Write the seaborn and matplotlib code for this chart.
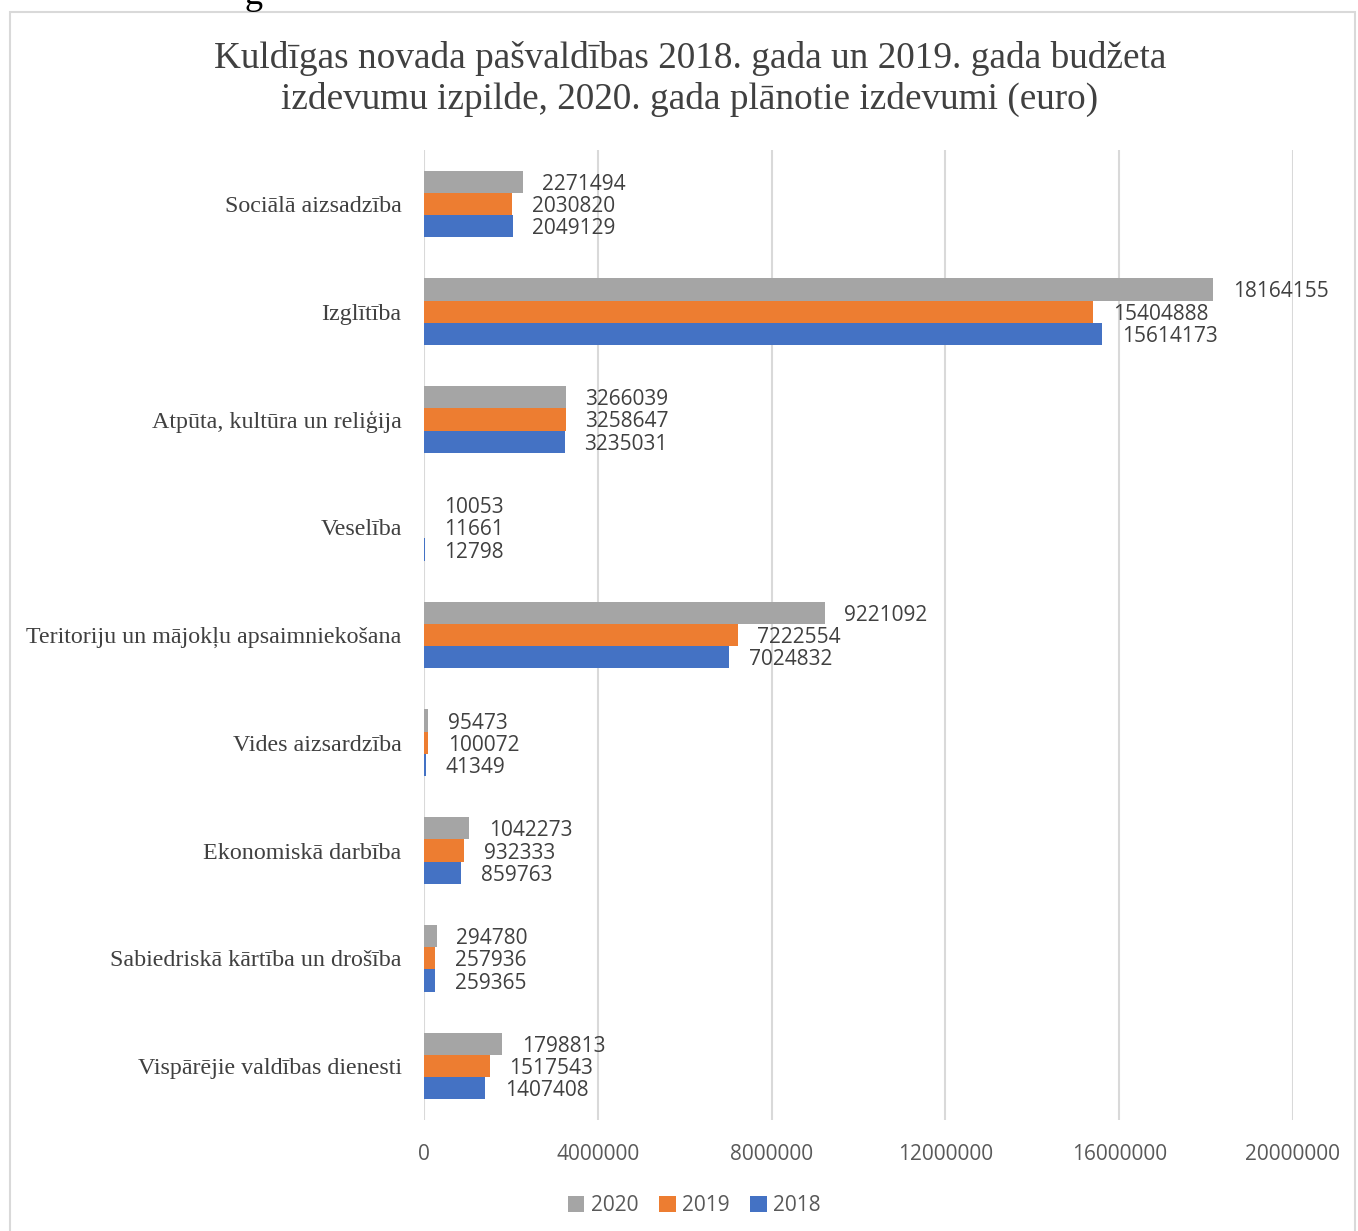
import numpy as np
import pandas as pd
import matplotlib
matplotlib.use("Agg")
import matplotlib.pyplot as plt
import seaborn as sns
from matplotlib.patches import Rectangle

sns.set_theme(style="white")

kategorijas = [
    "Sociālā aizsadzība",
    "Izglītība",
    "Atpūta, kultūra un reliģija",
    "Veselība",
    "Teritoriju un mājokļu apsaimniekošana",
    "Vides aizsardzība",
    "Ekonomiskā darbība",
    "Sabiedriskā kārtība un drošība",
    "Vispārējie valdības dienesti",
]
gadi = ["2020", "2019", "2018"]
izdevumi_2020 = [2271494, 18164155, 3266039, 10053, 9221092, 95473, 1042273, 294780, 1798813]
izdevumi_2019 = [2030820, 15404888, 3258647, 11661, 7222554, 100072, 932333, 257936, 1517543]
izdevumi_2018 = [2049129, 15614173, 3235031, 12798, 7024832, 41349, 859763, 259365, 1407408]
krasas = ["#A5A5A5", "#ED7D31", "#4472C4"]

dati = pd.DataFrame({
    "kategorija": kategorijas * 3,
    "gads": np.repeat(gadi, len(kategorijas)),
    "vertiba": izdevumi_2020 + izdevumi_2019 + izdevumi_2018,
})

fig = plt.figure(figsize=(13.58, 12.31), dpi=100)
ax = fig.add_axes([0.3122, 0.0902, 0.6399, 0.7879])

# rāmis ap diagrammu
fig.patches.append(Rectangle((10 / 1358, -0.01), 1345 / 1358, 1 - 12 / 1231 + 0.01,
                             transform=fig.transFigure, fill=False,
                             edgecolor="#D9D9D9", linewidth=1.5))
# lapas teksta atlikums virs diagrammas (nogriezts kā oriģinālā)
fig.text(0.180, 1.004, "g", fontsize=26, family="Liberation Serif", va="center", color="black")

sns.barplot(data=dati, y="kategorija", x="vertiba", hue="gads", hue_order=gadi,
            order=kategorijas, palette=krasas, width=0.62, saturation=1,
            orient="h", ax=ax, legend=True, linewidth=0)

for konteiners in ax.containers:
    ax.bar_label(konteiners, labels=[f"{int(v)}" for v in konteiners.datavalues],
                 padding=14, fontsize=15, color="#404040", family="Open Sans",
                 clip_on=False)
for t in ax.texts:
    t.set_va("center_baseline")

ax.set_xlim(0, 20000000)
ax.set_ylim(len(kategorijas) - 0.5, -0.5)
ax.set_xticks(np.arange(0, 20000001, 4000000))
ax.set_xticklabels([f"{t}" for t in np.arange(0, 20000001, 4000000)],
                   fontsize=15, color="#595959", family="Open Sans")
ax.tick_params(axis="x", pad=17, length=0)
ax.tick_params(axis="y", pad=16, length=0)
for lbl in ax.get_yticklabels():
    lbl.set_fontfamily("Liberation Serif")
    lbl.set_fontsize(17.3)
    lbl.set_color("#404040")
ax.xaxis.grid(True, color="#D9D9D9", linewidth=1.5)
ax.set_axisbelow(True)
for s in ax.spines.values():
    s.set_visible(False)
ax.set_xlabel("")
ax.set_ylabel("")

ax.legend(loc="center", bbox_to_anchor=(0.311, -0.088), ncol=3, frameon=False,
          prop={"family": "Open Sans", "size": 15}, handlelength=0.8, handleheight=0.8,
          handletextpad=0.3, columnspacing=1.0, labelcolor="#595959")

fig.suptitle("Kuldīgas novada pašvaldības 2018. gada un 2019. gada budžeta\n"
             "izdevumu izpilde, 2020. gada plānotie izdevumi (euro)",
             x=0.508, y=0.967, fontsize=26.8, family="Liberation Serif",
             color="#404040", linespacing=1.25)

fig.savefig("out.png", dpi=100, facecolor="white")
